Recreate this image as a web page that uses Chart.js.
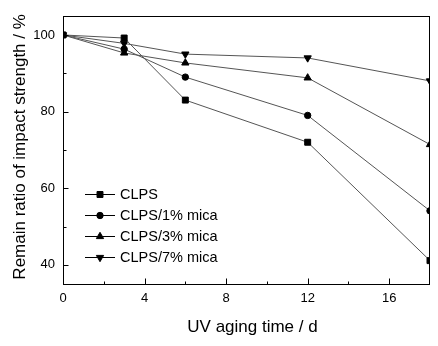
<!DOCTYPE html>
<html>
<head>
<meta charset="utf-8">
<script src="https://cdn.jsdelivr.net/npm/chart.js@4.4.0/dist/chart.umd.min.js"></script>
<style>
  html, body { margin: 0; padding: 0; background: #fff; }
  #wrap { width: 438px; height: 346px; }
</style>
</head>
<body>
<div id="wrap"><canvas id="c" width="438" height="346"></canvas></div>
<script>
const days = [0, 3, 6, 12, 18];
const clps = [100, 99.2, 83, 72, 41.1];
const mica1 = [100, 96.3, 89, 79, 54.1];
const mica3 = [100, 95.3, 92.7, 88.8, 71.4];
const mica7 = [100, 97.8, 95, 94, 88];

const seriesNames = ["CLPS", "CLPS/1% mica", "CLPS/3% mica", "CLPS/7% mica"];
const xTicks = [0, 4, 8, 12, 16];
const xMinor = [2, 6, 10, 14];
const yTicks = [40, 60, 80, 100];
const yMinor = [50, 70, 90];
const xTitle = "UV aging time / d";
const yTitle = "Remain ratio of impact strength / %";

const FONT = "'Liberation Sans', Arial, sans-serif";

// marker styles per series
const markers = [
  { pointStyle: "rect", radius: 4.2, rotation: 0 },
  { pointStyle: "circle", radius: 3.2, rotation: 0 },
  { pointStyle: "triangle", radius: 4.2, rotation: 0 },
  { pointStyle: "triangle", radius: 4.2, rotation: 180 }
];

function makeSet(label, vals, m) {
  return {
    label: label,
    data: days.map((d, i) => ({ x: d, y: vals[i] })),
    borderColor: "#555",
    borderWidth: 1,
    pointStyle: m.pointStyle,
    pointRadius: m.radius,
    pointRotation: m.rotation,
    pointBackgroundColor: "#000",
    pointBorderColor: "#000",
    pointBorderWidth: 1,
    tension: 0,
    clip: 0
  };
}

// box, inward ticks, axis titles
const framePlugin = {
  id: "frame",
  afterDraw(chart) {
    const ctx = chart.ctx;
    const a = chart.chartArea;
    const xs = chart.scales.x, ys = chart.scales.y;
    ctx.save();
    ctx.strokeStyle = "#000";
    ctx.lineWidth = 1;
    ctx.strokeRect(Math.round(a.left) + 0.5, Math.round(a.top) + 0.5,
      Math.round(a.right - a.left) - 1, Math.round(a.bottom - a.top));
    ctx.beginPath();
    const b = Math.round(a.bottom) + 0.5;
    const l = Math.round(a.left) + 0.5;
    xTicks.forEach(v => { const x = Math.round(xs.getPixelForValue(v)) + 0.5; ctx.moveTo(x, b); ctx.lineTo(x, b - 6); });
    xMinor.forEach(v => { const x = Math.round(xs.getPixelForValue(v)) + 0.5; ctx.moveTo(x, b); ctx.lineTo(x, b - 3); });
    yTicks.forEach(v => { const y = Math.round(ys.getPixelForValue(v)) + 0.5; ctx.moveTo(l, y); ctx.lineTo(l + 5, y); });
    yMinor.forEach(v => { const y = Math.round(ys.getPixelForValue(v)) + 0.5; ctx.moveTo(l, y); ctx.lineTo(l + 3, y); });
    ctx.stroke();

    ctx.fillStyle = "#000";
    ctx.font = "17px " + FONT;
    ctx.textAlign = "center";
    ctx.textBaseline = "middle";
    ctx.fillText(xTitle, (a.left + a.right) / 2 + 6, 327);
    ctx.translate(20, (a.top + a.bottom) / 2 - 3);
    ctx.rotate(-Math.PI / 2);
    ctx.fillText(yTitle, 0, 0);
    ctx.restore();
  }
};

// legend inside the plot, lower left
const legendPlugin = {
  id: "innerLegend",
  afterDraw(chart) {
    const ctx = chart.ctx;
    const rows = [194, 215, 236, 257];
    ctx.save();
    ctx.font = "14.5px " + FONT;
    ctx.textBaseline = "middle";
    chart.data.datasets.forEach((ds, i) => {
      const y = rows[i] + 0.5;
      ctx.strokeStyle = "#000";
      ctx.lineWidth = 1;
      ctx.beginPath();
      ctx.moveTo(85, y);
      ctx.lineTo(115, y);
      ctx.stroke();
      ctx.fillStyle = "#000";
      Chart.helpers.drawPoint(ctx, {
        pointStyle: markers[i].pointStyle,
        radius: markers[i].radius,
        rotation: markers[i].rotation,
        borderWidth: 1
      }, 100, y);
      ctx.fillStyle = "#000";
      ctx.fillText(ds.label, 120, rows[i] + 1);
    });
    ctx.restore();
  }
};

new Chart(document.getElementById("c"), {
  type: "line",
  data: {
    datasets: [
      makeSet(seriesNames[0], clps, markers[0]),
      makeSet(seriesNames[1], mica1, markers[1]),
      makeSet(seriesNames[2], mica3, markers[2]),
      makeSet(seriesNames[3], mica7, markers[3])
    ]
  },
  options: {
    responsive: false,
    animation: false,
    events: [],
    layout: { padding: { top: 14, right: 8, left: 0, bottom: 0 } },
    plugins: { legend: { display: false }, tooltip: { enabled: false } },
    scales: {
      x: {
        type: "linear",
        min: 0,
        max: 18,
        afterBuildTicks: s => { s.ticks = xTicks.map(v => ({ value: v })); },
        afterFit: s => { s.height = 62; },
        grid: { display: false, drawTicks: false },
        border: { display: false },
        ticks: { color: "#000", font: { family: FONT, size: 13 }, padding: 7, maxRotation: 0 }
      },
      y: {
        type: "linear",
        min: 35,
        max: 105,
        afterBuildTicks: s => { s.ticks = yTicks.map(v => ({ value: v })); },
        afterFit: s => { s.width = 63; },
        grid: { display: false, drawTicks: false },
        border: { display: false },
        ticks: { color: "#000", font: { family: FONT, size: 13 }, padding: 8 }
      }
    }
  },
  plugins: [framePlugin, legendPlugin]
});
</script>
</body>
</html>
